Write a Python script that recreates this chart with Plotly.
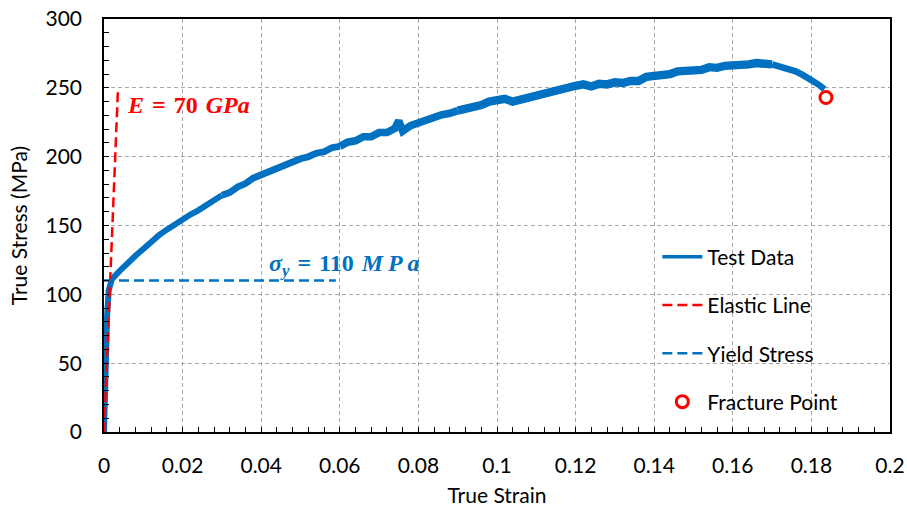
import plotly.graph_objects as go

# Test data (true strain, true stress in MPa) (incl. visible jitter)
strain = [0.0, 0.0003, 0.0008, 0.0012, 0.0016, 0.002, 0.004, 0.006, 0.008,
          0.010, 0.012, 0.014, 0.016, 0.018, 0.020, 0.022, 0.024, 0.026, 0.028,
          0.030, 0.032, 0.034, 0.036, 0.038, 0.040, 0.042, 0.044, 0.046, 0.048,
          0.050, 0.052, 0.054, 0.056, 0.058, 0.060, 0.062, 0.064, 0.066, 0.068,
          0.070, 0.072, 0.074, 0.075, 0.076, 0.078, 0.080, 0.082, 0.084, 0.086,
          0.088, 0.090, 0.092, 0.094, 0.096, 0.098, 0.100, 0.102, 0.104, 0.106,
          0.108, 0.110, 0.112, 0.114, 0.116, 0.118, 0.120, 0.122, 0.124, 0.126,
          0.128, 0.130, 0.132, 0.134, 0.136, 0.138, 0.140, 0.142, 0.144, 0.146,
          0.148, 0.150, 0.152, 0.154, 0.156, 0.158, 0.160, 0.162, 0.164, 0.166,
          0.168, 0.170, 0.172, 0.174, 0.176, 0.178, 0.180, 0.182, 0.1833]
stress = [0.0, 45.0, 85.0, 103.0, 109.0, 111.0, 117.0, 123.0, 128.0,
          133.0, 138.5, 143.0, 147.0, 151.0, 154.0, 158.0, 161.0, 165.0, 168.0,
          172.0, 174.0, 178.0, 180.5, 184.5, 187.0, 189.5, 191.5, 194.5, 196.0,
          198.5, 200.0, 202.5, 203.5, 206.5, 207.5, 210.5, 211.5, 214.5, 214.5,
          217.5, 217.5, 220.5, 226.0, 218.5, 222.5, 224.5, 227.5, 228.5, 230.5,
          231.5, 233.5, 234.5, 236.5, 237.5, 240.0, 240.5, 242.0, 240.0, 241.5,
          243.0, 245.5, 246.0, 248.5, 248.5, 251.0, 251.5, 252.5, 251.0, 253.0,
          252.5, 254.0, 253.5, 255.0, 255.0, 258.0, 258.5, 260.5, 260.0, 262.0,
          262.0, 263.5, 263.0, 265.0, 264.5, 266.0, 266.0, 267.5, 267.0, 268.0,
          267.5, 267.0, 265.5, 264.0, 262.0, 259.0, 256.0, 252.0, 249.0]

# Elastic line (E = 70 GPa)
elastic_strain = [0.0, 0.00357]
elastic_stress = [0.0, 250.0]

# Yield stress line
yield_strain = [0.0, 0.059]
yield_stress = [110.0, 110.0]

# Fracture point
fracture_strain = [0.1837]
fracture_stress = [243.0]

x_ticks = [0, 0.02, 0.04, 0.06, 0.08, 0.1, 0.12, 0.14, 0.16, 0.18, 0.2]
x_tick_labels = ["0", "0.02", "0.04", "0.06", "0.08", "0.1", "0.12", "0.14", "0.16", "0.18", "0.2"]
y_ticks = [0, 50, 100, 150, 200, 250, 300]

BLUE = "#0070C0"
RED = "#FF0000"
FONT = "Lato"

fig = go.Figure()
# the noisy band of the test data: gradually thicker along the curve, tapering at the end
breaks = [0.0, 0.030, 0.060, 0.090, 0.170, 0.1833]
widths = [6, 6.8, 7.6, 8.4, 6.5]
for k, w in enumerate(widths):
    a = strain.index(breaks[k])
    b = strain.index(breaks[k + 1]) + 1
    fig.add_trace(go.Scatter(x=strain[a:b], y=stress[a:b], mode="lines", name="Test Data",
                             showlegend=False, line=dict(color=BLUE, width=w), legendgroup="a"))
# legend entry for the test data
fig.add_trace(go.Scatter(x=[None], y=[None], mode="lines", name="Test Data",
                         line=dict(color=BLUE, width=3.5), legendgroup="a"))
fig.add_trace(go.Scatter(x=elastic_strain, y=elastic_stress, mode="lines", name="Elastic Line",
                         line=dict(color=RED, width=2.5, dash="10px,5px"), legendgroup="b"))
fig.add_trace(go.Scatter(x=yield_strain, y=yield_stress, mode="lines", name="Yield Stress",
                         line=dict(color=BLUE, width=2.5, dash="10px,5px"), legendgroup="c"))
fig.add_trace(go.Scatter(x=fracture_strain, y=fracture_stress, mode="markers", name="Fracture Point",
                         marker=dict(symbol="circle-open", color=RED, size=12, line=dict(width=3, color=RED)),
                         legendgroup="d"))

fig.add_annotation(x=0.0054, y=237.5, xanchor="left", yanchor="middle", showarrow=False,
                   text="<b><i>E</i>\u2004=\u200470\u2004<i>GPa</i></b>",
                   font=dict(family="Liberation Serif", size=24, color=RED))
fig.add_annotation(x=0.0415, y=121.5, xanchor="left", yanchor="middle", showarrow=False,
                   text="<b><i>σ</i><sub><i>y</i></sub>\u2004=\u2004110\u2004<i>M</i>\u2009<i>P</i>\u2009<i>a</i></b>",
                   font=dict(family="Liberation Serif", size=24, color=BLUE))

grid = dict(showgrid=True, gridcolor="#A6A6A6", griddash="4px,3px", gridwidth=1)

fig.update_layout(
    width=907, height=508,
    margin=dict(l=104, r=17, t=19, b=76),
    paper_bgcolor="white", plot_bgcolor="white",
    font=dict(family=FONT, size=20, color="black"),
    showlegend=True,
    legend=dict(x=0.704, y=0.248, xanchor="left", yanchor="middle",
                bgcolor="rgba(0,0,0,0)", font=dict(family=FONT, size=21, color="black"),
                tracegroupgap=18, itemwidth=40),
    xaxis=dict(range=[0, 0.2], tickvals=x_ticks, ticktext=x_tick_labels,
               ticks="inside", ticklen=5, tickcolor="black", tickwidth=1,
               minor=dict(ticks="inside", dtick=0.004, ticklen=5, tickcolor="black", showgrid=False),
               showline=True, linecolor="black", linewidth=1.5, mirror=True,
               zeroline=False, ticklabelstandoff=14, automargin=False,
               title=dict(text="True Strain", font=dict(family=FONT, size=21), standoff=12),
               tickfont=dict(family=FONT, size=21), **grid),
    yaxis=dict(range=[0, 300], tickvals=y_ticks,
               ticks="inside", ticklen=5, tickcolor="black", tickwidth=1,
               minor=dict(ticks="inside", dtick=10, ticklen=5, tickcolor="black", showgrid=False),
               showline=True, linecolor="black", linewidth=1.5, mirror=True,
               zeroline=False, ticklabelstandoff=16, automargin=False,
               title=dict(text="True Stress (MPa)", font=dict(family=FONT, size=21), standoff=12),
               tickfont=dict(family=FONT, size=21), **grid),
)

fig.write_html("out.html")
